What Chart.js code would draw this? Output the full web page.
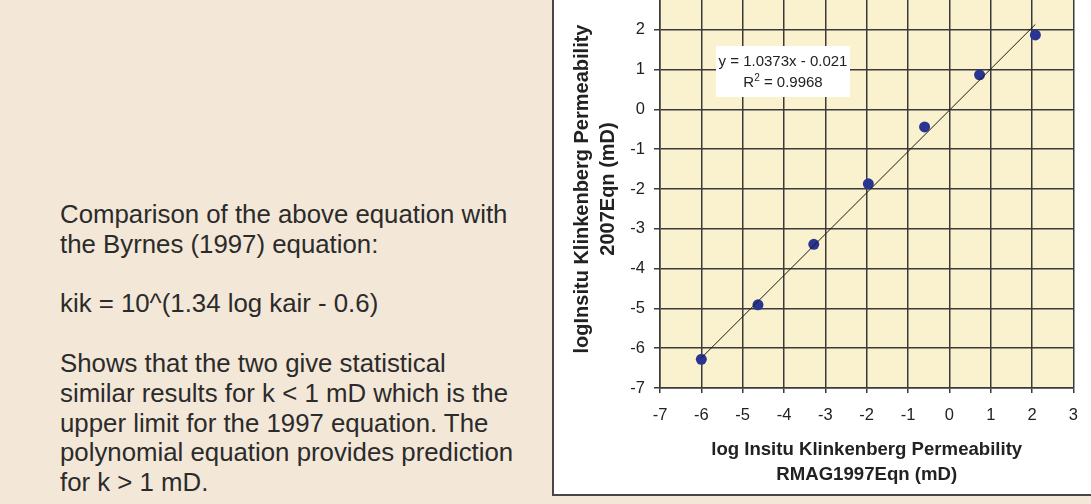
<!DOCTYPE html>
<html>
<head>
<meta charset="utf-8">
<title>Klinkenberg permeability comparison</title>
<script src="https://cdn.jsdelivr.net/npm/chart.js@4.4.0/dist/chart.umd.min.js"></script>
<style>
  html, body { margin: 0; padding: 0; }
  body {
    position: relative;
    width: 1091px;
    height: 504px;
    overflow: hidden;
    background: #f3e7d8;
    font-family: 'Liberation Sans', Arial, sans-serif;
  }
  .notes {
    position: absolute;
    left: 60px;
    top: 200px;
    font-size: 25.8px;
    line-height: 29.8px;
    color: #2b2b2b;
    white-space: nowrap;
  }
  .panel {
    position: absolute;
    left: 552px;
    top: -10px;
    width: 600px;
    height: 504px;
    background: #ffffff;
    border-left: 2px solid #4a4646;
    border-bottom: 2px solid #4a4646;
  }
  .chart-wrap {
    position: absolute;
    left: 554px;
    top: -30px;
    width: 537px;
    height: 524px;
  }
</style>
</head>
<body>
<div class="notes">
  Comparison of the above equation with<br>
  the Byrnes (1997) equation:<br>
  <br>
  kik = 10^(1.34 log kair - 0.6)<br>
  <br>
  Shows that the two give statistical<br>
  similar results for k &lt; 1 mD which is the<br>
  upper limit for the 1997 equation. The<br>
  polynomial equation provides prediction<br>
  for k &gt; 1 mD.
</div>
<div class="panel"></div>
<div class="chart-wrap"><canvas id="permChart"></canvas></div>

<script>
// log permeability: RMAG 1997 equation (x) vs 2007 equation (y)
const logK1997 = [-6.0, -4.63, -3.28, -1.96, -0.6, 0.73, 2.08];
const logK2007 = [-6.28, -4.91, -3.39, -1.87, -0.44, 0.87, 1.87];

// linear fit reported on the chart
const fitSlope = 1.0373;
const fitIntercept = -0.021;
const fitR2 = 0.9968;

const axisTicks = [-7, -6, -5, -4, -3, -2, -1, 0, 1, 2, 3];

const xTitle = ['log Insitu Klinkenberg Permeability', 'RMAG1997Eqn (mD)'];
const yTitle = ['logInsitu Klinkenberg Permeability', '2007Eqn (mD)'];

const gridColor = '#3a3a3a';
const textColor = '#222222';

Chart.defaults.font.family = "'Liberation Sans', Arial, sans-serif";

const points = logK1997.map((x, i) => ({ x, y: logK2007[i] }));

const fitStart = Math.min(...logK1997);
const fitEnd = Math.max(...logK1997);
const fitLine = [fitStart, fitEnd].map((x) => ({ x, y: fitSlope * x + fitIntercept }));

const plotBackground = {
  id: 'plotBackground',
  beforeDraw(chart) {
    const { ctx, chartArea } = chart;
    ctx.save();
    ctx.fillStyle = '#faf1cf';
    ctx.fillRect(chartArea.left, chartArea.top, chartArea.width, chartArea.height);
    ctx.restore();
  },
};

// white box with the fit equation, like the spreadsheet trendline label
const fitLabel = {
  id: 'fitLabel',
  afterDatasetsDraw(chart) {
    const { ctx, chartArea } = chart;
    const boxLeft = chartArea.left + 56;
    const boxTop = chartArea.top + 56;
    const boxWidth = 134;
    const boxHeight = 51;
    const cx = boxLeft + boxWidth / 2;

    ctx.save();
    ctx.fillStyle = '#ffffff';
    ctx.fillRect(boxLeft, boxTop, boxWidth, boxHeight);

    ctx.fillStyle = textColor;
    ctx.textBaseline = 'middle';
    ctx.font = "15px 'Liberation Sans', Arial, sans-serif";

    const sign = fitIntercept < 0 ? '-' : '+';
    const eq = `y = ${fitSlope}x ${sign} ${Math.abs(fitIntercept)}`;
    ctx.textAlign = 'center';
    ctx.fillText(eq, cx, boxTop + 16);

    // R² with a raised small 2
    const rest = ` = ${fitR2}`;
    ctx.textAlign = 'left';
    const wR = ctx.measureText('R').width;
    const wRest = ctx.measureText(rest).width;
    ctx.font = "10px 'Liberation Sans', Arial, sans-serif";
    const wSup = ctx.measureText('2').width;
    const start = cx - (wR + wSup + wRest) / 2;
    const lineY = boxTop + 37;
    ctx.fillText('2', start + wR, lineY - 5);
    ctx.font = "15px 'Liberation Sans', Arial, sans-serif";
    ctx.fillText('R', start, lineY);
    ctx.fillText(rest, start + wR + wSup, lineY);
    ctx.restore();
  },
};

const setTicks = (scale) => {
  scale.ticks = axisTicks.map((value) => ({ value }));
};

new Chart(document.getElementById('permChart'), {
  type: 'scatter',
  data: {
    datasets: [
      {
        type: 'line',
        data: fitLine,
        borderColor: '#1a1a1a',
        borderWidth: 1,
        pointRadius: 0,
        fill: false,
        order: 0,
      },
      {
        data: points,
        backgroundColor: '#2a3591',
        borderColor: '#2a3591',
        borderWidth: 0,
        pointRadius: 5.5,
        order: 1,
      },
    ],
  },
  options: {
    responsive: true,
    maintainAspectRatio: false,
    animation: false,
    layout: {
      padding: { top: 20, right: 10, bottom: 0, left: 0 },
    },
    plugins: {
      legend: { display: false },
      tooltip: { enabled: false },
    },
    scales: {
      x: {
        type: 'linear',
        min: -7,
        max: 3,
        afterBuildTicks: setTicks,
        afterFit(scale) {
          scale.height = 106;
        },
        grid: {
          color: gridColor,
          lineWidth: 1.5,
          tickLength: 5,
          tickColor: gridColor,
        },
        border: { color: gridColor, width: 1.5 },
        ticks: {
          color: textColor,
          font: { size: 16.5 },
          padding: 13,
          maxRotation: 0,
          autoSkip: false,
        },
        title: {
          display: true,
          text: xTitle,
          color: textColor,
          font: { size: 18.6, weight: 'bold', lineHeight: 1.32 },
          padding: { top: 0, bottom: 7 },
        },
      },
      y: {
        type: 'linear',
        min: -7,
        max: 3,
        afterBuildTicks: setTicks,
        afterFit(scale) {
          scale.width = 106;
        },
        grid: {
          color: gridColor,
          lineWidth: 1.5,
          tickLength: 6,
          tickColor: gridColor,
        },
        border: { color: gridColor, width: 1.5 },
        ticks: {
          color: textColor,
          font: { size: 16.5 },
          padding: 9,
          autoSkip: false,
        },
        title: {
          display: true,
          text: yTitle,
          color: textColor,
          font: { size: 20, weight: 'bold', lineHeight: 1.3 },
          padding: { top: 15, bottom: 0 },
        },
      },
    },
  },
  plugins: [plotBackground, fitLabel],
});
</script>
</body>
</html>
